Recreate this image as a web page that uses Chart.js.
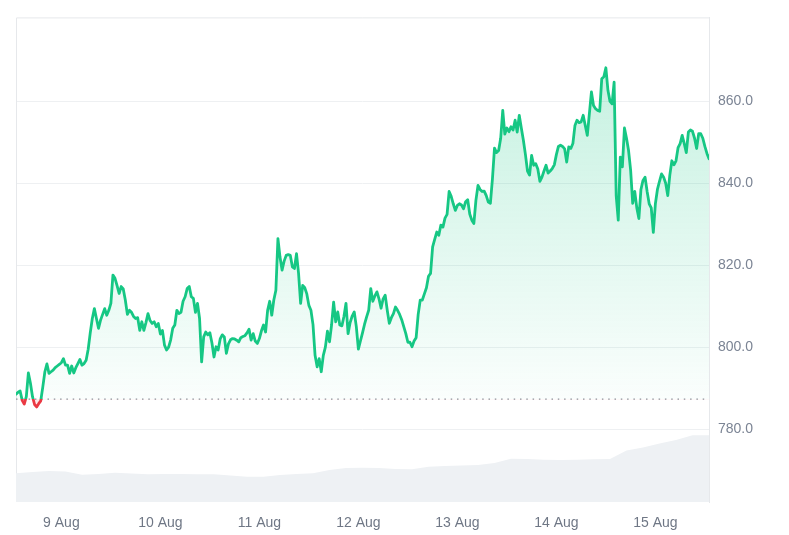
<!DOCTYPE html>
<html><head><meta charset="utf-8">
<style>html,body{margin:0;padding:0;background:#fff;}#wrap{width:789px;height:535px;position:relative;overflow:hidden;background:#fff}</style>
<script src="https://cdn.jsdelivr.net/npm/chart.js@4.4.1/dist/chart.umd.min.js"></script>
</head><body><div id="wrap"><canvas id="c" width="789" height="535"></canvas></div>
<script>
// first sample: 8 Aug 13:00, every half hour
const startHour = 13;
const hourStep = 0.5;
const prices = [
788.5,789.0,789.3,787.0,786.1,787.9,793.7,791.2,787.9,786.0,
785.4,786.2,786.9,790.3,794.0,795.9,793.6,794.0,794.4,795.0,
795.4,795.8,796.2,797.2,795.6,795.6,793.6,795.4,793.7,795.0,
796.0,797.0,795.6,796.0,796.8,799.5,803.5,807.0,809.4,807.0,
804.6,806.6,808.0,809.4,807.8,809.0,810.7,817.6,816.8,815.0,
813.1,814.8,814.2,811.5,808.0,809.0,808.5,807.5,807.0,807.2,
804.1,806.2,804.1,806.0,808.2,806.5,805.8,806.2,805.0,805.8,
803.2,804.1,800.5,799.3,800.0,801.8,804.6,805.4,809.0,808.2,
808.5,811.2,812.3,814.3,814.8,812.3,811.9,808.5,810.7,807.0,
796.4,802.5,803.7,803.0,803.5,801.0,797.6,800.1,799.3,802.0,
803.0,802.5,798.5,800.8,801.8,802.1,802.0,801.7,801.3,802.3,
802.6,802.8,803.5,804.4,801.7,803.3,801.5,800.9,802.1,804.0,
805.4,803.7,809.0,811.2,807.8,811.5,813.9,826.5,822.0,818.8,
821.0,822.4,822.6,822.4,819.6,819.2,822.8,818.0,810.7,815.1,
814.5,813.0,810.2,809.0,805.5,798.0,795.2,797.2,794.0,798.0,
800.0,803.9,801.3,805.4,811.0,806.2,808.6,805.4,805.2,807.5,
810.7,803.3,806.0,807.6,808.6,805.0,799.5,801.5,803.5,805.6,
807.4,809.0,814.3,811.2,812.5,813.5,811.8,809.5,811.8,812.7,
809.0,805.8,807.2,808.2,809.8,809.0,808.0,806.7,805.0,803.3,
801.2,801.2,800.1,801.5,802.3,808.0,811.5,811.5,813.0,814.5,
817.3,818.0,824.5,826.3,828.1,827.3,829.8,829.3,831.5,832.4,
838.0,836.8,835.0,833.4,834.6,835.0,834.7,833.8,835.5,836.0,
832.5,831.0,830.2,835.9,839.5,838.5,838.0,838.1,837.0,835.4,
835.1,841.1,848.6,847.5,848.0,851.0,857.8,852.0,853.5,852.6,
853.8,853.0,855.4,852.5,856.6,853.5,850.5,847.0,843.0,842.0,
846.8,844.4,844.8,843.5,840.5,841.5,843.0,844.4,842.5,843.0,
843.6,844.5,847.0,849.0,849.3,849.0,848.4,845.2,848.9,848.5,
849.7,854.1,855.4,854.8,855.0,856.6,854.1,851.7,857.0,862.3,
859.0,858.2,857.8,857.6,865.5,866.0,868.2,862.7,860.0,859.4,
864.7,837.0,831.0,846.4,844.0,853.5,851.0,848.0,843.2,835.1,
838.0,834.0,831.4,838.5,840.7,841.5,838.0,835.0,834.0,828.0,
835.0,838.5,840.5,842.3,841.5,840.0,837.0,842.0,845.5,844.5,
845.5,848.7,849.7,851.7,849.7,847.5,852.5,853.0,852.7,851.0,
848.5,852.1,852.1,851.0,849.0,847.3,
846.0
];
// volume, sampled every 4 hours from the same start
const volumeStep = 4;
const volumes = [
29.6,31.0,32.0,31.4,28.0,29.0,30.2,29.4,28.6,28.9,
28.9,28.7,28.6,27.3,26.1,26.1,27.8,28.9,29.6,33.0,
35.0,35.4,35.0,34.0,33.7,36.4,37.1,37.6,38.1,40.2,
44.6,44.3,43.6,43.3,43.6,44.1,44.3,53.1,56.2,60.3,
63.9,69.0,69.0
];
const baseline = 787.3;
const dayLabels = ['9 Aug','10 Aug','11 Aug','12 Aug','13 Aug','14 Aug','15 Aug'];
const yTicks = [780, 800, 820, 840, 860];

const GREEN = '#16c784', RED = '#ea3943';
const dayTickPos = dayLabels.map((_, k) => (24 - startHour) + 24 * k);
const priceData = prices.map((p, i) => ({x: i * hourStep, y: p}));
const volData = volumes.map((v, i) => ({x: i * volumeStep, y: v}));
const lastX = (prices.length - 1) * hourStep;

function basePx(chart){ return chart.scales.y.getPixelForValue(baseline); }
function stopFrac(chart){
  const a = chart.chartArea;
  return Math.min(Math.max((basePx(chart) - a.top) / (a.bottom - a.top), 0), 1);
}
function lineColor(ctx){
  const chart = ctx.chart, a = chart.chartArea;
  if (!a || !chart.scales.y) return GREEN;
  const s = stopFrac(chart);
  const g = chart.ctx.createLinearGradient(0, a.top, 0, a.bottom);
  g.addColorStop(0, GREEN); g.addColorStop(s, GREEN);
  g.addColorStop(s, RED); g.addColorStop(1, RED);
  return g;
}
function fillColor(ctx){
  const chart = ctx.chart, a = chart.chartArea;
  if (!a || !chart.scales.y) return 'rgba(22,199,132,0.1)';
  const s = stopFrac(chart);
  const g = chart.ctx.createLinearGradient(0, a.top, 0, a.bottom);
  g.addColorStop(0, 'rgba(22,199,132,0.28)');
  g.addColorStop(s, 'rgba(22,199,132,0.02)');
  g.addColorStop(s, 'rgba(234,57,67,0.12)');
  g.addColorStop(Math.min(s + 0.06, 1), 'rgba(234,57,67,0.0)');
  g.addColorStop(1, 'rgba(234,57,67,0.0)');
  return g;
}
const frame = {
  id: 'frame',
  beforeDatasetsDraw(chart){
    const {ctx, chartArea: a} = chart;
    ctx.save();
    ctx.strokeStyle = '#e6e8eb'; ctx.lineWidth = 1;
    ctx.beginPath();
    ctx.moveTo(a.left + 0.5, a.bottom);
    ctx.lineTo(a.left + 0.5, a.top + 0.5);
    ctx.lineTo(a.right, a.top + 0.5);
    ctx.stroke();
    ctx.restore();
  }
};
const tickFont = {family: '"Liberation Sans", Arial, sans-serif', size: 14};

new Chart(document.getElementById('c'), {
  type: 'line',
  data: {
    datasets: [
      {
        data: priceData, yAxisID: 'y', order: 0,
        borderColor: lineColor, backgroundColor: fillColor,
        borderWidth: 2.8, pointRadius: 0, tension: 0,
        borderJoinStyle: 'round', borderCapStyle: 'round',
        fill: {target: {value: baseline}}
      },
      {
        data: [{x: 0, y: baseline}, {x: lastX, y: baseline}], yAxisID: 'y', order: 1,
        borderColor: '#8e939b', borderWidth: 1.2, borderDash: [1.5, 4.8],
        pointRadius: 0, fill: false
      },
      {
        data: volData, yAxisID: 'yVol', order: 2,
        borderWidth: 0, borderColor: 'rgba(0,0,0,0)', backgroundColor: '#eef1f4',
        pointRadius: 0, tension: 0, fill: 'origin'
      }
    ]
  },
  options: {
    responsive: false, animation: false, devicePixelRatio: 1,
    layout: {padding: {left: 16, top: 17, right: 0, bottom: 0}},
    plugins: {legend: {display: false}, tooltip: {enabled: false}},
    scales: {
      x: {
        type: 'linear', min: 0, max: lastX,
        afterBuildTicks: s => { s.ticks = dayTickPos.map(v => ({value: v})); },
        afterFit: s => { s.height = 33; },
        grid: {display: false, drawTicks: false},
        border: {display: false},
        ticks: {padding: 13, maxRotation: 0, autoSkip: false, color: '#6f7785', font: tickFont,
          callback: v => dayLabels[dayTickPos.indexOf(v)]}
      },
      y: {
        position: 'right', min: 762.2, max: 880.5,
        afterBuildTicks: s => { s.ticks = yTicks.map(v => ({value: v})); },
        afterFit: s => { s.width = 80; },
        grid: {color: '#eef0f2', drawTicks: false},
        border: {display: true, color: '#e6e8eb'},
        ticks: {padding: 9, color: '#7b8494', font: tickFont, callback: v => Number(v).toFixed(1)}
      },
      yVol: {display: false, min: 0, max: 500}
    }
  },
  plugins: [frame]
});
</script></body></html>
